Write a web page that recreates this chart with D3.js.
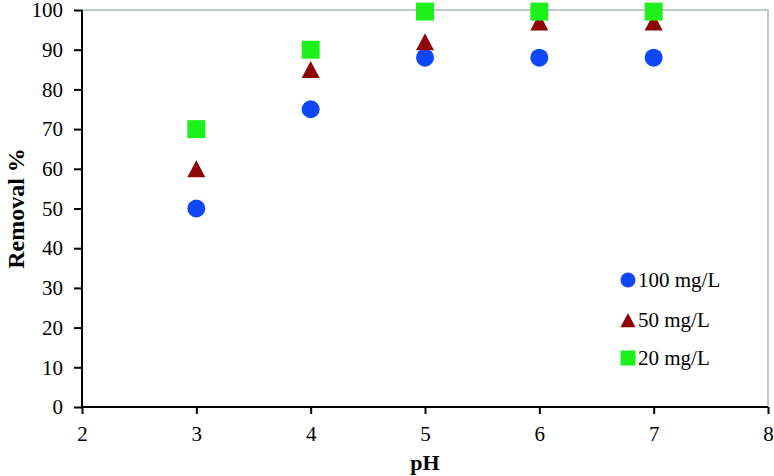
<!DOCTYPE html>
<html><head><meta charset="utf-8">
<script src="https://cdn.jsdelivr.net/npm/d3@7"></script>
<style>body{margin:0;background:#fff}svg{display:block}text{font-family:"Liberation Serif","Times New Roman",serif;fill:#000}</style>
</head><body><svg id="c" width="774" height="476"></svg>
<script>
const pH = [3, 4, 5, 6, 7];
const removal100 = [50, 75, 88, 88, 88];
const removal50 = [60, 85, 92, 97, 97];
const removal20 = [70, 90, 99.6, 99.6, 99.6];
const seriesNames = ["100 mg/L", "50 mg/L", "20 mg/L"];
const xTicks = [2, 3, 4, 5, 6, 7, 8];
const yTicks = [0, 10, 20, 30, 40, 50, 60, 70, 80, 90, 100];

const svg = d3.select("#c");
const L = 82, R = 768, T = 10, B = 407;
const x = d3.scaleLinear().domain([2, 8]).range([L, R]);
const y = d3.scaleLinear().domain([0, 100]).range([B, T]);

svg.append("path").attr("d", `M${L},${T}H${R}V${B}`).attr("fill","none").attr("stroke","#a7b7bd").attr("stroke-width",1.5);

const yAx = svg.append("g").attr("transform",`translate(${L},0)`)
  .call(d3.axisLeft(y).tickValues(yTicks).tickSize(8).tickPadding(11).tickFormat(d3.format("d")));
const xAx = svg.append("g").attr("transform",`translate(0,${B})`)
  .call(d3.axisBottom(x).tickValues(xTicks).tickSize(7).tickPadding(12).tickFormat(d3.format("d")));
[yAx, xAx].forEach(g => {
  g.attr("font-size", null).attr("font-family", null);
  g.selectAll("path,line").attr("stroke","#000").attr("stroke-width",2);
  g.select(".domain").attr("d", g === yAx ? `M0,${B}V${T}` : `M${L},0H${R}`);
  g.selectAll("text").style("font-size","21px").style("font-family","'Liberation Serif'").attr("fill","#000");
});

svg.append("text").attr("transform",`translate(24,${(T+B)/2}) rotate(-90)`).attr("text-anchor","middle")
  .style("font-size","24px").attr("font-weight","bold").text("Removal %");
svg.append("text").attr("x",(L+R)/2).attr("y",470).attr("text-anchor","middle")
  .style("font-size","22px").attr("font-weight","bold").text("pH");

const colors = ["#0f46f6", "#8e0505", "#1ef01c"];
const tri = {draw(ctx, size){ const w = Math.sqrt(size), h = w*0.95;
  ctx.moveTo(0,-h/2); ctx.lineTo(w/2,h/2); ctx.lineTo(-w/2,h/2); ctx.closePath(); }};
const shapes = [d3.symbolCircle, tri, d3.symbolSquare];
const sizes = [254, 324, 324];
const data = [removal100, removal50, removal20];

data.forEach((vals, i) => {
  svg.append("g").selectAll("path").data(vals).join("path")
    .attr("transform",(d,j)=>`translate(${x(pH[j])},${y(d)})`)
    .attr("d", d3.symbol(shapes[i], sizes[i])())
    .attr("fill", colors[i]);
});

const legY = [280, 320, 358];
const legSizes = [177, 225, 225];
seriesNames.forEach((n, i) => {
  svg.append("path").attr("transform",`translate(628,${legY[i]})`)
    .attr("d", d3.symbol(shapes[i], legSizes[i])()).attr("fill", colors[i]);
  svg.append("text").attr("x",638).attr("y",legY[i]).attr("dy","0.35em")
    .style("font-size","21px").text(n);
});
</script></body></html>
